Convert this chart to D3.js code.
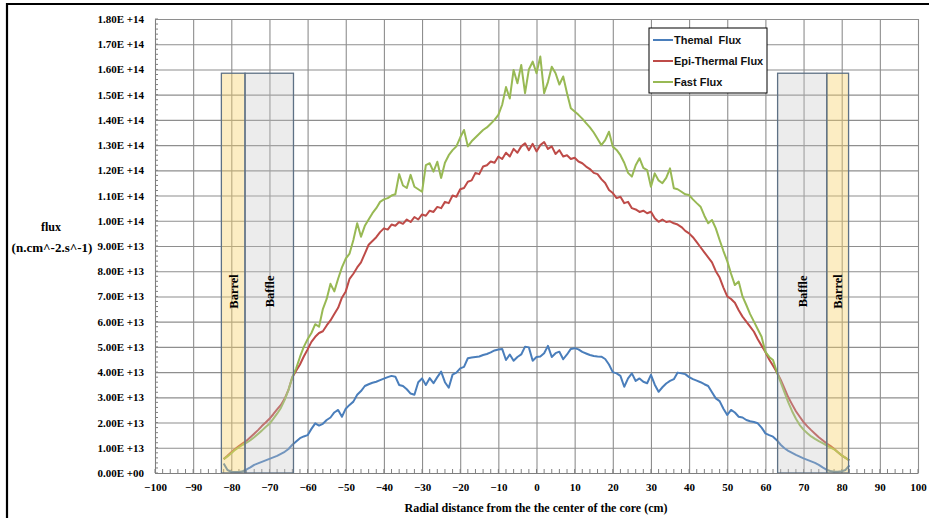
<!DOCTYPE html>
<html>
<head>
<meta charset="utf-8">
<script src="https://cdn.jsdelivr.net/npm/d3@7"></script>
<style>
  body { margin: 0; background: #fff; }
  svg { display: block; }
  .serif { font-family: "Liberation Serif", "Times New Roman", serif; font-weight: bold; fill: #000; }
  .legend-text { font-family: "Liberation Sans", Arial, sans-serif; font-weight: bold; font-size: 11px; fill: #111; white-space: pre; }
</style>
</head>
<body>
<svg id="chart"></svg>
<script>
// Radial positions (cm), one reading per cm across the core
const radius = d3.range(-82, 83, 1);

// Flux readings in units of 1e13 n.cm^-2.s^-1, from x = -82 to x = 82
const thermalFlux = [
  0.38, 0.12, 0.05, 0.04, 0.04, 0.07, 0.14, 0.22, 0.32, 0.38,
  0.44, 0.50, 0.56, 0.62, 0.68, 0.76, 0.84, 0.95, 1.12, 1.25,
  1.38, 1.45, 1.50, 1.75, 1.97, 1.88, 1.95, 2.10, 2.20, 2.40,
  2.50, 2.23, 2.55, 2.70, 2.83, 3.10, 3.25, 3.45, 3.52, 3.58,
  3.62, 3.68, 3.74, 3.80, 3.85, 3.82, 3.49, 3.45, 3.32, 3.15,
  3.10, 3.60, 3.75, 3.49, 3.76, 3.56, 3.80, 4.02, 3.60, 3.38,
  3.90, 3.98, 4.15, 4.21, 4.55, 4.58, 4.60, 4.62, 4.68, 4.72,
  4.78, 4.86, 4.90, 4.92, 4.48, 4.70, 4.45, 4.60, 4.70, 5.01,
  4.98, 4.45, 4.60, 4.62, 4.75, 5.04, 4.60, 4.75, 4.81, 4.51,
  4.70, 4.92, 4.95, 4.90, 4.80, 4.74, 4.68, 4.64, 4.62, 4.61,
  4.52, 4.30, 4.00, 3.95, 3.85, 3.42, 3.75, 3.95, 3.65, 3.75,
  3.62, 3.56, 3.89, 3.50, 3.22, 3.40, 3.55, 3.65, 3.72, 3.98,
  3.95, 3.92, 3.80, 3.72, 3.66, 3.60, 3.52, 3.45, 3.20, 2.96,
  2.85, 2.55, 2.30, 2.50, 2.40, 2.23, 2.20, 2.10, 2.05, 2.02,
  1.97, 1.80, 1.57, 1.50, 1.44, 1.30, 1.12, 0.98, 0.88, 0.80,
  0.72, 0.65, 0.58, 0.52, 0.46, 0.40, 0.32, 0.22, 0.13, 0.08,
  0.05, 0.05, 0.07, 0.12, 0.30
];
const epiThermalFlux = [
  0.55, 0.68, 0.82, 0.95, 1.07, 1.18, 1.28, 1.42, 1.56, 1.70,
  1.86, 2.00, 2.15, 2.33, 2.52, 2.70, 2.95, 3.30, 3.80, 4.05,
  4.30, 4.62, 4.90, 5.20, 5.40, 5.55, 5.62, 5.85, 6.05, 6.30,
  6.55, 6.95, 7.20, 7.70, 7.90, 8.15, 8.35, 8.70, 9.05, 9.20,
  9.35, 9.55, 9.70, 9.65, 9.85, 9.80, 9.95, 9.88, 10.05, 9.95,
  10.15, 10.05, 10.25, 10.20, 10.40, 10.35, 10.55, 10.50, 10.75, 10.70,
  11.00, 10.95, 11.25, 11.30, 11.55, 11.60, 11.90, 11.85, 12.15, 12.20,
  12.35, 12.30, 12.55, 12.45, 12.70, 12.55, 12.85, 12.70, 12.95, 13.07,
  12.80, 13.05, 12.75, 13.00, 13.12, 12.85, 12.95, 12.65, 12.80, 12.55,
  12.60, 12.45, 12.50, 12.35, 12.28, 12.15, 12.05, 11.90, 11.85, 11.65,
  11.50, 11.22, 11.10, 10.90, 10.95, 10.70, 10.75, 10.50, 10.45, 10.35,
  10.40, 10.30, 10.36, 10.10, 9.96, 10.05, 9.95, 9.98, 9.90, 9.85,
  9.75, 9.60, 9.50, 9.35, 9.15, 8.95, 8.75, 8.55, 8.35, 8.00,
  7.75, 7.35, 7.00, 6.90, 6.75, 6.45, 6.20, 6.00, 5.80, 5.60,
  5.30, 5.05, 4.80, 4.50, 4.25, 4.00, 3.70, 3.35, 3.00, 2.72,
  2.45, 2.23, 2.02, 1.85, 1.70, 1.56, 1.42, 1.30, 1.18, 1.08,
  0.96, 0.82, 0.70, 0.60, 0.50
];
const fastFlux = [
  0.55, 0.66, 0.78, 0.92, 1.02, 1.12, 1.20, 1.30, 1.42, 1.55,
  1.68, 1.82, 1.95, 2.15, 2.35, 2.58, 2.90, 3.30, 3.80, 4.15,
  4.60, 5.00, 5.30, 5.55, 5.90, 5.80, 6.50, 6.90, 7.50, 7.20,
  7.70, 8.15, 8.50, 8.70, 9.24, 9.90, 9.37, 9.80, 10.05, 10.30,
  10.50, 10.75, 10.85, 10.90, 11.00, 11.05, 11.85, 11.40, 11.30, 11.82,
  11.35, 11.25, 11.15, 12.21, 12.28, 11.95, 12.34, 11.70, 12.30, 12.60,
  12.80, 12.95, 13.30, 13.60, 12.95, 13.15, 13.30, 13.45, 13.60, 13.70,
  13.85, 14.00, 14.20, 14.60, 15.30, 14.85, 15.98, 15.45, 16.18, 15.06,
  16.00, 16.31, 15.85, 16.51, 15.06, 15.50, 16.11, 15.85, 15.40, 15.72,
  15.06, 14.46, 14.33, 14.20, 14.05, 13.87, 13.70, 13.50, 13.25, 13.00,
  13.20, 13.53, 12.94, 12.81, 12.60, 12.30, 11.90, 11.75, 12.20, 12.48,
  12.10, 12.01, 11.35, 11.88, 11.60, 11.49, 11.70, 12.08, 11.29, 11.25,
  11.15, 11.05, 11.02, 10.85, 10.70, 10.56, 10.20, 9.90, 10.03, 9.70,
  9.24, 8.80, 8.40, 7.90, 7.45, 7.59, 7.00, 6.66, 6.30, 6.00,
  5.70, 5.40, 4.80, 4.60, 4.48, 4.00, 3.60, 3.20, 2.80, 2.45,
  2.15, 1.90, 1.72, 1.58, 1.45, 1.35, 1.26, 1.18, 1.10, 1.02,
  0.94, 0.82, 0.70, 0.60, 0.50
];
const seriesNames = ['Themal  Flux', 'Epi-Thermal Flux', 'Fast Flux'];

// Structural regions (cm) drawn as shaded bands
const bandNames = ['Barrel', 'Baffle', 'Baffle', 'Barrel'];
const bandStart = [-82.6, -76.4, 63.2, 76.1];
const bandEnd = [-76.4, -63.7, 76.1, 81.8];
const bandTop = 1.585e14;

// Axis ticks
const xTicks = d3.range(-100, 101, 10);
const yTicks = d3.range(0, 19, 1).map(d => d * 1e13);

class FluxChart {

    constructor(_config) {
        this.config = {
            parentElement: _config.parentElement,
            containerWidth: _config.containerWidth || 929,
            containerHeight: _config.containerHeight || 518,
            margin: _config.margin || {top: 19, right: 11, bottom: 45, left: 155},
            colors: ['#4a7ebb', '#be4b48', '#98b954']
        };
        this.initVis();
    }

    initVis() {
        let vis = this;
        vis.width = vis.config.containerWidth - vis.config.margin.left - vis.config.margin.right;
        vis.height = vis.config.containerHeight - vis.config.margin.top - vis.config.margin.bottom;

        vis.xScale = d3.scaleLinear().domain([-100, 100]).range([0, vis.width]);
        vis.yScale = d3.scaleLinear().domain([0, 1.8e14]).range([vis.height, 0]);

        vis.svg = d3.select(vis.config.parentElement)
            .attr('width', vis.config.containerWidth)
            .attr('height', vis.config.containerHeight);

        vis.chart = vis.svg.append('g')
            .attr('transform', `translate(${vis.config.margin.left},${vis.config.margin.top})`);

        // outer frame (left and top edge only, like the source image)
        vis.svg.append('path')
            .attr('d', 'M7,518 L7,4 L929,4')
            .attr('fill', 'none')
            .attr('stroke', '#000')
            .attr('stroke-width', 2.2);
    }

    updateVis() {
        let vis = this;
        vis.series = [thermalFlux, epiThermalFlux, fastFlux].map((vals, i) => ({
            name: seriesNames[i],
            color: vis.config.colors[i],
            points: radius.map((r, j) => ({x: r, y: vals[j] * 1e13}))
        }));
        vis.bands = bandNames.map((name, i) => ({name, x0: bandStart[i], x1: bandEnd[i]}));
        vis.renderVis();
    }

    renderVis() {
        let vis = this;
        const x = vis.xScale, y = vis.yScale;

        // gridlines
        vis.chart.append('g')
            .attr('class', 'grid')
            .attr('transform', `translate(0,${vis.height})`)
            .call(d3.axisBottom(x).tickValues(xTicks).tickSize(-vis.height).tickFormat(''))
            .call(g => g.select('.domain').remove())
            .call(g => g.selectAll('line').attr('stroke', '#8e8e8e').attr('stroke-width', 1.1));
        vis.chart.append('g')
            .attr('class', 'grid')
            .call(d3.axisLeft(y).tickValues(yTicks).tickSize(-vis.width).tickFormat(''))
            .call(g => g.select('.domain').remove())
            .call(g => g.selectAll('line').attr('stroke', '#8e8e8e').attr('stroke-width', 1.1));

        // minor ticks, pointing into the plot
        vis.chart.selectAll('.x-minor')
            .data(d3.range(-100, 101, 2))
            .join('line')
            .attr('x1', d => x(d)).attr('x2', d => x(d))
            .attr('y1', vis.height).attr('y2', vis.height - 4)
            .attr('stroke', '#808080');
        vis.chart.selectAll('.y-minor')
            .data(d3.range(0, 91, 1).map(d => d * 0.2e13))
            .join('line')
            .attr('x1', 0).attr('x2', 3)
            .attr('y1', d => y(d)).attr('y2', d => y(d))
            .attr('stroke', '#808080');

        // flux curves
        const line = d3.line().x(d => x(d.x)).y(d => y(d.y));
        vis.chart.selectAll('.curve')
            .data(vis.series)
            .join('path')
            .attr('class', 'curve')
            .attr('d', d => line(d.points))
            .attr('fill', 'none')
            .attr('stroke', d => d.color)
            .attr('stroke-width', 2)
            .attr('stroke-linejoin', 'round');

        // barrel / baffle bands sit on top of the curves, semi transparent
        vis.chart.selectAll('.band')
            .data(vis.bands)
            .join('rect')
            .attr('class', 'band')
            .attr('x', d => x(d.x0))
            .attr('width', d => x(d.x1) - x(d.x0))
            .attr('y', y(bandTop))
            .attr('height', vis.height - y(bandTop))
            .attr('fill', d => d.name === 'Barrel' ? '#f7d36a' : '#c4c4c4')
            .attr('fill-opacity', d => d.name === 'Barrel' ? 0.4 : 0.33)
            .attr('stroke', '#5e7185')
            .attr('stroke-width', 1.3);

        vis.chart.selectAll('.band-label')
            .data(vis.bands)
            .join('text')
            .attr('class', 'band-label serif')
            .attr('transform', d => `translate(${(x(d.x0) + x(d.x1)) / 2},${y(7.2e13)})rotate(-90)`)
            .attr('text-anchor', 'middle')
            .attr('dy', '0.35em')
            .style('font-size', '12.5px')
            .text(d => d.name);

        // axes
        const fmt = v => {
            if (v === 0) return '0.00E +00';
            const e = Math.floor(Math.log10(v) + 1e-9);
            return (v / Math.pow(10, e)).toFixed(2) + 'E +' + e;
        };
        vis.chart.append('g')
            .attr('transform', `translate(0,${vis.height})`)
            .call(d3.axisBottom(x).tickValues(xTicks).tickSize(0).tickPadding(10).tickFormat(d3.format('d')))
            .call(g => g.select('.domain').attr('stroke', '#7f7f7f'))
            .call(g => g.selectAll('text').attr('class', 'serif').style('font-size', '11px'));
        vis.chart.append('g')
            .call(d3.axisLeft(y).tickValues(yTicks).tickSize(0).tickPadding(11).tickFormat(fmt))
            .call(g => g.select('.domain').attr('stroke', '#7f7f7f'))
            .call(g => g.selectAll('text').attr('class', 'serif').style('font-size', '11px'));

        // axis titles
        vis.svg.append('text')
            .attr('class', 'serif')
            .attr('x', 536).attr('y', 512)
            .attr('text-anchor', 'middle')
            .style('font-size', '12px')
            .text('Radial distance from the the center of the core (cm)');
        vis.svg.append('text')
            .attr('class', 'serif')
            .attr('x', 51).attr('y', 231)
            .attr('text-anchor', 'middle')
            .style('font-size', '12px')
            .text('flux');
        vis.svg.append('text')
            .attr('class', 'serif')
            .attr('x', 52).attr('y', 252)
            .attr('text-anchor', 'middle')
            .style('font-size', '13px')
            .text('(n.cm^-2.s^-1)');

        // legend
        const legend = vis.svg.append('g').attr('transform', 'translate(649,28)');
        legend.append('rect')
            .attr('width', 118).attr('height', 65)
            .attr('fill', '#fff').attr('stroke', '#000').attr('stroke-width', 1);
        const items = legend.selectAll('.item')
            .data(vis.series)
            .join('g')
            .attr('transform', (d, i) => `translate(4,${12 + i * 21})`);
        items.append('line')
            .attr('x1', 0).attr('x2', 20)
            .attr('stroke', d => d.color).attr('stroke-width', 2);
        items.append('text')
            .attr('class', 'legend-text')
            .attr('x', 21).attr('dy', '0.35em')
            .text(d => d.name);
    }
}

const chart = new FluxChart({parentElement: '#chart'});
chart.updateVis();
</script>
</body>
</html>
